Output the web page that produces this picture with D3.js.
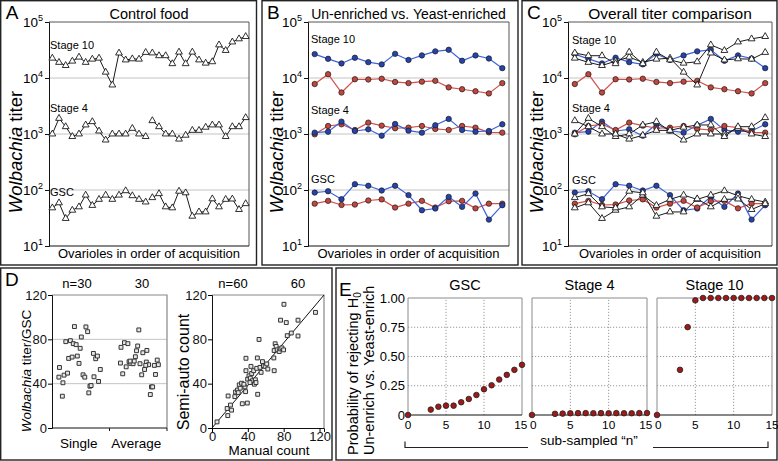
<!DOCTYPE html>
<html><head><meta charset="utf-8">
<script src="https://cdn.jsdelivr.net/npm/d3@7"></script>
<style>
body{margin:0;background:#fff;}
svg, svg text{font-family:"Liberation Sans",Arial,sans-serif;}
</style></head><body>
<svg id="c" width="778" height="461"></svg>
<script>
// ---------- DATA ----------
// Panel A: control food, 30 ovarioles (two acquisition batches of 15)
const aStage10 = [22600,19000,16700,20000,23600,19000,21700,22600,12700,7500,27900,21000,22000,21700,28600,
                  28000,25000,25000,18000,29000,18000,29000,21000,18400,19500,39000,31000,44000,50000,55000];
const aStage4  = [1000,1900,1350,900,1000,1450,1660,1130,780,1000,1000,1000,1260,1000,900,
                  1730,1350,1000,1000,810,950,1160,1160,1320,1450,1450,900,1350,1350,1960];
const aGSC     = [48,59,31,43.5,50,81,53,68,81,68,81,97,79,68,61,
                  73,86,50,48,95,89,34,40.6,40.6,69.5,50,68,69,44.8,57];
// Panel B: blue and red series, 15 ovarioles
const bBlue10  = [26700,22000,18200,23000,19200,17500,27000,21000,25300,29900,31900,20300,25300,22300,15000];
const bRed10   = [7800,11700,5500,9500,9400,9700,8500,8100,8600,8900,6800,6300,5800,5300,8100];
const bBlue4   = [1057,1100,1665,1132,1213,933,1510,1148,1057,1430,1860,1180,1100,1132,1490];
const bRed4    = [986,1390,1490,1180,1596,1410,1266,1298,1390,1230,1180,1390,1298,1072,1057];
const bBlueGSC = [90,95,68.5,127,119,98,119,81,43.5,46.7,75.5,50,86.5,29.6,53.5];
const bRedGSC  = [57,64,54,55,65,68,48.6,57,64,48.6,63,64,47,57,57];
const logTicks = [10,100,1000,10000,100000];

// Panel D left: Wolbachia titer/GSC (value, jitter position within category band)
const dSingle     = [54.6,45.9,47.7,49.5,40.8,28.7,77.9,78.8,76.1,75.2,71.9,91.5,62.8,64.0,64.9,58.3,82.1,91.2,86.9,48.0,45.9,67.3,62.5,64.9,31.7,37.7,38.3,46.2,42.0,52.8];
const dSingleJit  = [0.13,0.12,0.21,0.27,0.19,0.18,0.24,0.32,0.37,0.42,0.49,0.39,0.29,0.35,0.44,0.47,0.51,0.59,0.62,0.54,0.57,0.72,0.76,0.79,0.64,0.66,0.68,0.73,0.81,0.84];
const dAverage    = [72.8,77.0,76.1,58.6,48.9,55.2,59.8,58.3,58.0,64.3,69.7,74.0,88.5,58.0,48.0,67.9,52.8,59.5,70.0,57.1,37.1,37.1,30.2,56.5,48.3,61.3,57.1,60.4,60.4,56.5];
const dAverageJit = [0.20,0.26,0.32,0.19,0.23,0.29,0.34,0.37,0.41,0.45,0.47,0.49,0.51,0.53,0.56,0.58,0.61,0.64,0.65,0.68,0.73,0.75,0.71,0.78,0.80,0.83,0.85,0.36,0.43,0.63];
const dCategories = ["Single","Average"];
const dTicks = [0,40,80,120];
// Panel D right: manual vs semi-auto count
const manualCount = [5.6,16.9,17.6,18,20.6,21.8,26.3,25.5,28.5,30.4,31.5,33,33.8,36.8,37.5,37.9,39.4,37.9,39.8,41.3,42.8,43.5,44.3,45,46.5,47.3,48.4,49.9,49.1,50.6,51,52.5,53.6,54.8,56.3,57.4,59.3,61.1,62.3,69.4,69,69.4,70.5,71.6,72.8,75,76.1,78,79.9,76.5,82.9,80.3,84,88.5,96,96,115.5,35.6,42.4,29.3];
const semiCount   = [5.5,17.6,11.2,28.9,20.7,16.1,32.5,28.3,34.3,38.9,35.9,40.4,21.9,37.1,32.8,62.9,22.5,51.7,44.1,47.1,45,55.6,49.2,42.6,51.7,39.5,43.5,53.8,41,63.2,30.4,79.9,54.7,50.2,59.9,56.2,55.6,57.8,53.2,51.7,63.2,69.9,76,73.6,70.5,69,71.4,72.3,70.5,97.3,95.1,111.6,83.3,85.7,83,97.3,104.3,39.5,41,31.9];
const fitLine = [[0,0],[125,120]];
// Panel E: probability of rejecting H0 vs sub-sampled n
const eN       = [0,3,4,5,6,7,8,9,10,11,12,13,14,15];
const eGSC     = [0,0.046,0.071,0.08,0.08,0.109,0.137,0.171,0.22,0.254,0.303,0.343,0.386,0.429];
const eStage4  = [0,0.010,0.012,0.015,0.016,0.016,0.015,0.016,0.015,0.016,0.015,0.015,0.016,0.017];
const eStage10 = [0,0.386,0.751,0.98,1,1,1,1,1,1,1,1,1,1];
const eYTicks  = [0,0.25,0.5,0.75,1];
const eYLabels = ["0","0.25","0.50","0.75","1.00"];
const eXTicks  = [0,5,10,15];

// ---------- DRAW ----------
const svg = d3.select("#c");
const FF = "Liberation Sans, Arial, sans-serif";
const BLUE_L = "#3d63dc", BLUE_F = "#2443ac", RED_L = "#d4504a", RED_F = "#c2453e";

function border(x0,y0,x1,y1){
  svg.append("rect").attr("x",x0).attr("y",y0).attr("width",x1-x0).attr("height",y1-y0)
    .attr("fill","none").attr("stroke","#222").attr("stroke-width",1.4);
}
function letter(t,x,y){
  svg.append("text").attr("x",x).attr("y",y).attr("font-size",19).text(t);
}

const yLog = d3.scaleLog().domain([10,1e5]).range([246,22]);

function titerPanel(cfg){
  const g = svg.append("g");
  border(cfg.bx0,0.7,cfg.bx1,265);
  letter(cfg.letter,cfg.bx0+5,19);
  const x = d3.scalePoint().domain(d3.range(cfg.n)).range([cfg.left,cfg.right]).padding(0.5);
  g.selectAll(".gl").data([100,1000,10000]).join("line")
    .attr("x1",cfg.left).attr("x2",cfg.right).attr("y1",d=>yLog(d)).attr("y2",d=>yLog(d))
    .attr("stroke","#c4c4c4").attr("stroke-width",1);
  g.append("path").attr("d",`M${cfg.left},${yLog(1e5)}H${cfg.right}V${yLog(10)}`)
    .attr("fill","none").attr("stroke","#555").attr("stroke-width",1);
  const ax = g.append("g").attr("transform",`translate(${cfg.left},0)`)
    .call(d3.axisLeft(yLog).tickValues(logTicks).tickSize(4).tickFormat(""));
  ax.select(".domain").attr("stroke","#111");
  ax.selectAll(".tick line").attr("stroke","#111");
  g.selectAll(".tl").data(logTicks).join("text")
    .attr("x",cfg.left-6).attr("y",d=>yLog(d)+5).attr("text-anchor","end").attr("font-size",13.5)
    .each(function(d){
      const t = d3.select(this);
      t.append("tspan").text("10");
      t.append("tspan").attr("dy",-6).attr("font-size",9).text(Math.round(Math.log10(d)));
    });
  g.append("line").attr("x1",cfg.left).attr("x2",cfg.right).attr("y1",yLog(10)).attr("y2",yLog(10))
    .attr("stroke","#111").attr("stroke-width",1);
  g.append("text").attr("x",(cfg.left+cfg.right)/2).attr("y",19).attr("text-anchor","middle")
    .attr("font-size",cfg.titleSize).text(cfg.title);
  g.append("text").attr("x",(cfg.left+cfg.right)/2).attr("y",258).attr("text-anchor","middle")
    .attr("font-size",13).text("Ovarioles in order of acquisition");
  const yl = g.append("text").attr("transform",`translate(${cfg.bx0+21},152) rotate(-90)`)
    .attr("text-anchor","middle").attr("font-size",18.5);
  yl.append("tspan").attr("font-style","italic").text("Wolbachia");
  yl.append("tspan").text(" titer");
  g.selectAll(".sl").data(cfg.labels).join("text")
    .attr("x",cfg.left+cfg.labDx).attr("y",d=>yLog(d.v)).attr("font-size",11).text(d=>d.t);
  const line = d3.line().x(d=>x(d.i)).y(d=>yLog(d.v));
  cfg.series.forEach(s=>{
    const pts = s.vals.map((v,k)=>({i:k+s.off, v}));
    const col = s.kind==="blue"?BLUE_L:(s.kind==="red"?RED_L:"#1a1a1a");
    g.append("path").datum(pts).attr("d",line).attr("fill","none")
      .attr("stroke",col).attr("stroke-width",s.kind==="tri"?1:1.2);
    if(s.kind==="tri"){
      g.selectAll(null).data(pts).join("path")
        .attr("transform",d=>`translate(${x(d.i)},${yLog(d.v)})`)
        .attr("d",d3.symbol(d3.symbolTriangle,20)).attr("fill","#fff").attr("stroke","#1a1a1a").attr("stroke-width",0.9);
    } else {
      g.selectAll(null).data(pts).join("circle")
        .attr("cx",d=>x(d.i)).attr("cy",d=>yLog(d.v)).attr("r",2.7)
        .attr("fill",s.kind==="blue"?BLUE_F:RED_F).attr("stroke","#1a1a1a").attr("stroke-width",0.7);
    }
  });
}

titerPanel({bx0:0.7,bx1:256.5,left:49,right:249,n:30,letter:"A",title:"Control food",titleSize:14.5,labDx:1,
  labels:[{t:"Stage 10",v:33000},{t:"Stage 4",v:2470},{t:"GSC",v:78}],
  series:[
    {vals:aStage10.slice(0,15),off:0,kind:"tri"},{vals:aStage10.slice(15),off:15,kind:"tri"},
    {vals:aStage4.slice(0,15),off:0,kind:"tri"},{vals:aStage4.slice(15),off:15,kind:"tri"},
    {vals:aGSC.slice(0,15),off:0,kind:"tri"},{vals:aGSC.slice(15),off:15,kind:"tri"}]});
titerPanel({bx0:262,bx1:518,left:308,right:509,n:15,letter:"B",title:"Un-enriched vs. Yeast-enriched",titleSize:14,labDx:3,
  labels:[{t:"Stage 10",v:42000},{t:"Stage 4",v:2280},{t:"GSC",v:133}],
  series:[
    {vals:bRed10,off:0,kind:"red"},{vals:bBlue10,off:0,kind:"blue"},
    {vals:bRed4,off:0,kind:"red"},{vals:bBlue4,off:0,kind:"blue"},
    {vals:bRedGSC,off:0,kind:"red"},{vals:bBlueGSC,off:0,kind:"blue"}]});
titerPanel({bx0:522,bx1:777,left:568,right:772,n:15,letter:"C",title:"Overall titer comparison",titleSize:15.5,labDx:4,
  labels:[{t:"Stage 10",v:40000},{t:"Stage 4",v:2470},{t:"GSC",v:128}],
  series:[
    {vals:bBlue10,off:0,kind:"blue"},{vals:bRed10,off:0,kind:"red"},
    {vals:aStage10.slice(0,15),off:0,kind:"tri"},{vals:aStage10.slice(15),off:0,kind:"tri"},
    {vals:bBlue4,off:0,kind:"blue"},{vals:bRed4,off:0,kind:"red"},
    {vals:aStage4.slice(0,15),off:0,kind:"tri"},{vals:aStage4.slice(15),off:0,kind:"tri"},
    {vals:bBlueGSC,off:0,kind:"blue"},{vals:bRedGSC,off:0,kind:"red"},
    {vals:aGSC.slice(0,15),off:0,kind:"tri"},{vals:aGSC.slice(15),off:0,kind:"tri"}]});

// ---------- Panel D ----------
border(0.7,268,332,460);
letter("D",5,286);
const yD = d3.scaleLinear().domain([0,120]).range([428,295]);
function dFrame(x0,x1,grid){
  const g = svg.append("g");
  if(grid){
    g.selectAll(null).data([40,80]).join("line").attr("x1",x0).attr("x2",x1)
      .attr("y1",d=>yD(d)).attr("y2",d=>yD(d)).attr("stroke","#c4c4c4");
  }
  g.append("path").attr("d",`M${x0},${yD(120)}H${x1}V${yD(0)}`).attr("fill","none").attr("stroke","#888").attr("stroke-width",1.2);
  const ax = g.append("g").attr("transform",`translate(${x0},0)`)
    .call(d3.axisLeft(yD).tickValues(dTicks).tickSize(4).tickPadding(1));
  ax.selectAll("text").attr("font-size",13).attr("font-family",FF).attr("fill","#111");
  ax.select(".domain").attr("stroke","#111");
  return g;
}
const xDb = d3.scaleBand().domain(dCategories).range([52,167]);
const gDL = dFrame(52,167,true);
gDL.append("line").attr("x1",52).attr("x2",167).attr("y1",yD(0)).attr("y2",yD(0)).attr("stroke","#111");
gDL.selectAll(null).data([xDb("Average"),167]).join("line").attr("x1",d=>d).attr("x2",d=>d)
  .attr("y1",yD(0)).attr("y2",yD(0)+3).attr("stroke","#111");
gDL.selectAll(null).data(dCategories).join("text").attr("x",d=>xDb(d)+xDb.bandwidth()/2-2).attr("y",448)
  .attr("text-anchor","middle").attr("font-size",13.5).text(d=>d);
const sq = d3.symbol(d3.symbolSquare,15);
function squares(g,pts){
  g.selectAll(null).data(pts).join("path").attr("transform",d=>`translate(${d[0]},${d[1]})`)
    .attr("d",sq).attr("fill","#e6e6e6").attr("stroke","#333").attr("stroke-width",1);
}
squares(gDL, dSingle.map((v,i)=>[xDb("Single")+dSingleJit[i]*xDb.bandwidth(), yD(v)]));
squares(gDL, dAverage.map((v,i)=>[xDb("Average")+dAverageJit[i]*xDb.bandwidth(), yD(v)]));
svg.append("text").attr("x",77).attr("y",288).attr("text-anchor","middle").attr("font-size",13).text("n=30");
svg.append("text").attr("x",142).attr("y",288).attr("text-anchor","middle").attr("font-size",13).text("30");
const ylD = svg.append("text").attr("transform","translate(31,371) rotate(-90)").attr("text-anchor","middle").attr("font-size",13.5);
ylD.append("tspan").attr("font-style","italic").text("Wolbachia");
ylD.append("tspan").text(" titer/GSC");
const xDr = d3.scaleLinear().domain([0,125]).range([212,324]);
const gDR = dFrame(212,324,false);
const axB = gDR.append("g").attr("transform",`translate(0,${yD(0)})`)
  .call(d3.axisBottom(xDr).tickValues(dTicks).tickSize(4).tickPadding(0));
axB.selectAll("text").attr("font-size",13).attr("font-family",FF).attr("fill","#111");
axB.select(".domain").attr("stroke","#111");
gDR.append("line").attr("x1",xDr(fitLine[0][0])).attr("y1",yD(fitLine[0][1]))
  .attr("x2",xDr(fitLine[1][0])).attr("y2",yD(fitLine[1][1])).attr("stroke","#111").attr("stroke-width",1);
squares(gDR, manualCount.map((v,i)=>[xDr(v), yD(semiCount[i])]));
svg.append("text").attr("x",269).attr("y",455).attr("text-anchor","middle").attr("font-size",13.5).text("Manual count");
svg.append("text").attr("transform","translate(189,372) rotate(-90)").attr("text-anchor","middle").attr("font-size",16).text("Semi-auto count");
svg.append("text").attr("x",233).attr("y",288).attr("text-anchor","middle").attr("font-size",13).text("n=60");
svg.append("text").attr("x",298).attr("y",288).attr("text-anchor","middle").attr("font-size",13).text("60");

// ---------- Panel E ----------
border(336,268,777,460);
letter("E",339,296);
const yE = d3.scaleLinear().domain([0,1]).range([415,298]);
const eSubs = [{t:"GSC",x0:408,x1:522,vals:eGSC},{t:"Stage 4",x0:532,x1:647,vals:eStage4},{t:"Stage 10",x0:657,x1:772,vals:eStage10}];
eSubs.forEach((s,k)=>{
  const g = svg.append("g");
  const x = d3.scaleLinear().domain([0,15]).range([s.x0,s.x1]);
  g.selectAll(null).data([0.25,0.5,0.75]).join("line").attr("x1",s.x0).attr("x2",s.x1)
    .attr("y1",d=>yE(d)).attr("y2",d=>yE(d)).attr("stroke","#999").attr("stroke-dasharray","1.2,1.8");
  g.selectAll(null).data([5,10]).join("line").attr("x1",d=>x(d)).attr("x2",d=>x(d))
    .attr("y1",yE(0)).attr("y2",yE(1)).attr("stroke","#999").attr("stroke-dasharray","1.2,1.8");
  g.append("path").attr("d",`M${s.x0},${yE(0)}V${yE(1)}H${s.x1}V${yE(0)}`).attr("fill","none").attr("stroke","#8a8a8a");
  g.append("line").attr("x1",s.x0).attr("x2",s.x1).attr("y1",yE(0)).attr("y2",yE(0)).attr("stroke","#111");
  g.selectAll(null).data(eXTicks).join("text")
    .attr("x",d=>x(d) + (d===15 && k<2 ? -1.2 : 0) + (d===0 && k>0 ? 1.2 : 0))
    .attr("y",429).attr("text-anchor","middle").attr("font-size",11.8).text(d=>d);
  g.append("text").attr("x",(s.x0+s.x1)/2).attr("y",290).attr("text-anchor","middle").attr("font-size",14.5).text(s.t);
  if(k===0){
    g.selectAll(null).data(eYTicks).join("text").attr("x",s.x0-3).attr("y",(d)=>yE(d)+4.5).attr("text-anchor","end")
      .attr("font-size",13).text((d,i)=>eYLabels[i]);
  }
  g.selectAll(null).data(s.vals).join("circle").attr("cx",(d,i)=>x(eN[i])).attr("cy",d=>yE(d)).attr("r",2.8)
    .attr("fill","#a01818").attr("stroke","#222").attr("stroke-width",0.8);
});
svg.append("path").attr("d","M405,441.5V447.5H528M653,447.5H768V441.5").attr("fill","none").attr("stroke","#222").attr("stroke-width",1.2);
svg.append("text").attr("x",589).attr("y",445).attr("text-anchor","middle").attr("font-size",13.5).text("sub-sampled \u201cn\u201d");
const ylE = svg.append("text").attr("transform","translate(358,455) rotate(-90)").attr("font-size",14.5);
ylE.append("tspan").text("Probability of rejecting H");
ylE.append("tspan").attr("font-size",10).attr("dy",3).text("0");
svg.append("text").attr("transform","translate(374,455) rotate(-90)").attr("font-size",14.5).text("Un-enrich vs. Yeast-enrich");
</script>
</body></html>
